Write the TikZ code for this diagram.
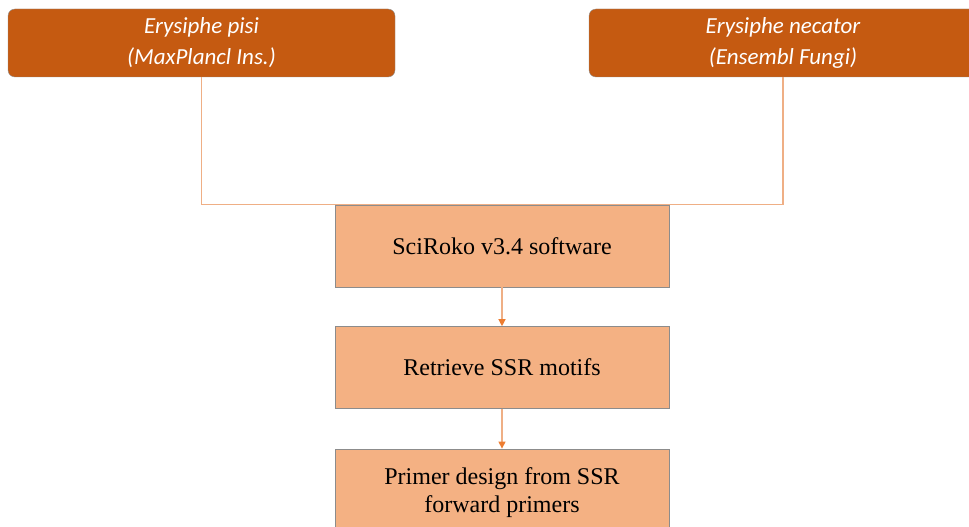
\documentclass[tikz,border=0pt]{standalone}
\usepackage{fontspec}
\setmainfont{Liberation Serif}
\newfontfamily\calfont{Carlito}
\usetikzlibrary{arrows.meta,positioning}
\definecolor{darkorg}{HTML}{C55A11}
\definecolor{lightorg}{HTML}{F4B183}
\definecolor{lineorg}{HTML}{EFAF85}
\definecolor{tiporg}{HTML}{ED7D31}
\definecolor{edgegray}{HTML}{8C8C8C}

\begin{document}
\begin{tikzpicture}[x=1pt,y=-1pt, node distance=39pt]
  \useasboundingbox (0,0) rectangle (969,527);
  % Source genomes
  \node[draw=edgegray,rounded corners=7pt,fill=darkorg,text=white,font=\calfont\itshape\fontsize{23}{31}\selectfont,align=center,minimum width=387pt,minimum height=68pt] (pisi) at (201.5,43) {Erysiphe pisi\\(MaxPlancl Ins.)};
  \node[draw=edgegray,rounded corners=7pt,fill=darkorg,text=white,font=\calfont\itshape\fontsize{23}{31}\selectfont,align=center,minimum width=388pt,minimum height=68pt] (necator) at (783,43) {Erysiphe necator\\(Ensembl Fungi)};

  % Pipeline steps
  \node[draw=edgegray,fill=lightorg,font=\fontsize{24}{28}\selectfont,align=center,minimum width=334pt,minimum height=82pt] (soft) at (502,246) {SciRoko v3.4 software};
  \node[draw=edgegray,fill=lightorg,font=\fontsize{24}{28}\selectfont,align=center,minimum width=334pt,minimum height=82pt,below=of soft] (motif) {Retrieve SSR motifs};
  \node[draw=edgegray,fill=lightorg,font=\fontsize{24}{28}\selectfont,align=center,minimum width=334pt,minimum height=88pt,below=40pt of motif] (primer) {Primer design from SSR\\forward primers};

  % Connectors
  \draw[lineorg,line width=1.2pt] (pisi.south) |- (soft.north) -| (necator.south);
  \draw[lineorg,line width=1.2pt,-{Triangle[length=7pt,width=7pt,color=tiporg]}] (soft.south) -- (motif.north);
  \draw[lineorg,line width=1.2pt,-{Triangle[length=7pt,width=7pt,color=tiporg]}] (motif.south) -- (primer.north);
\end{tikzpicture}
\end{document}
